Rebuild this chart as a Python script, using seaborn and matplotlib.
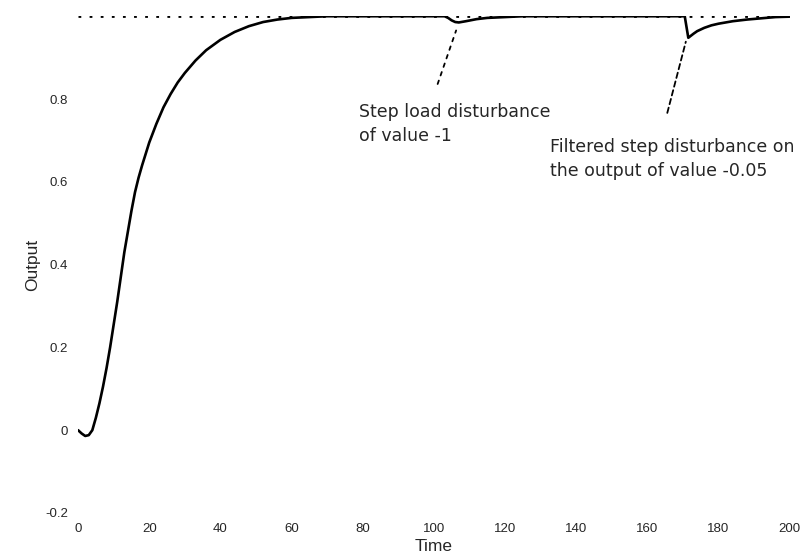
import matplotlib
matplotlib.use("Agg")
import matplotlib.pyplot as plt
import seaborn as sns
import pandas as pd

# ---- data ----
time = [0, 1, 2, 3, 4, 5, 6, 7, 8, 9, 10, 11, 12, 13, 14, 15, 16, 17, 18,
        20, 22, 24, 26, 28, 30, 33, 36, 40, 44, 48, 52, 56, 60, 65, 70, 80,
        90, 100, 103, 104, 105, 106, 107, 109, 112, 115, 120, 125, 140, 160,
        170.5, 171.5, 173, 174, 176, 178, 180, 184, 188, 192, 196, 200]
output = [0.0, -0.008, -0.014, -0.012, 0.0, 0.03, 0.065, 0.105, 0.15, 0.2,
          0.255, 0.31, 0.37, 0.43, 0.48, 0.53, 0.575, 0.61, 0.64,
          0.695, 0.74, 0.78, 0.812, 0.84, 0.863, 0.893, 0.918, 0.943, 0.962,
          0.976, 0.986, 0.992, 0.996, 0.998, 1.0, 1.0,
          1.0, 1.0, 1.0, 0.996, 0.99, 0.986, 0.985, 0.988, 0.993, 0.996,
          0.998, 1.0, 1.0, 1.0,
          1.0, 0.948, 0.958, 0.964, 0.972, 0.978, 0.982, 0.988, 0.992,
          0.995, 0.998, 0.999]
ref_time = [0, 200]
ref_value = [1.0, 1.0]

x_ticks = [0, 20, 40, 60, 80, 100, 120, 140, 160, 180, 200]
y_ticks = [-0.2, 0, 0.2, 0.4, 0.6, 0.8]
y_tick_labels = ["-0.2", "0", "0.2", "0.4", "0.6", "0.8"]

note1 = "Step load disturbance\nof value -1"
note2 = "Filtered step disturbance on\nthe output of value -0.05"

sns.set_theme(style="white")
plt.rcParams["font.family"] = ["Liberation Sans", "DejaVu Sans"]

df = pd.DataFrame({"Time": time, "Output": output})
df_ref = pd.DataFrame({"Time": ref_time, "Output": ref_value})

fig = plt.figure(figsize=(8.05, 5.6), dpi=100)
ax = fig.add_axes([0.097, 0.084, 0.884, 0.887])

sns.lineplot(data=df_ref, x="Time", y="Output", ax=ax, color="black",
             linestyle=(0, (1, 3)), linewidth=2.0)
sns.lineplot(data=df, x="Time", y="Output", ax=ax, color="black",
             linewidth=1.9)

ax.set_xlim(0, 200)
ax.set_ylim(-0.2, 1.0)
ax.set_xticks(x_ticks)
ax.set_xticklabels([str(v) for v in x_ticks], fontsize=9.5)
ax.set_yticks(y_ticks)
ax.set_yticklabels(y_tick_labels, fontsize=9.5)
ax.tick_params(axis="both", length=0, pad=7)
for s in ax.spines.values():
    s.set_visible(False)
ax.set_xlabel("Time", fontsize=12.5, labelpad=3)
ax.set_ylabel("Output", fontsize=12.5, labelpad=4)

ax.annotate("", xy=(106.5, 0.972), xytext=(100.8, 0.83),
            arrowprops=dict(arrowstyle="-", linestyle=(0, (2, 3)),
                            color="black", lw=1.3))
ax.annotate("", xy=(171, 0.945), xytext=(165.4, 0.76),
            arrowprops=dict(arrowstyle="-", linestyle=(0, (3, 2)),
                            color="black", lw=1.3))
ax.text(79, 0.74, note1, fontsize=12.5, ha="left", va="center",
        linespacing=1.45, family=["DejaVu Sans"])
ax.text(132.6, 0.655, note2, fontsize=12.5, ha="left", va="center",
        linespacing=1.45, family=["DejaVu Sans"])

fig.savefig("out.png", dpi=100)
